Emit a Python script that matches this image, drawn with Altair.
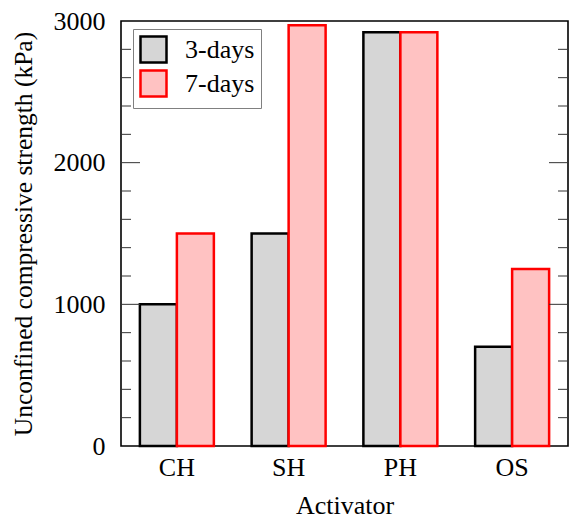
import altair as alt
import pandas as pd

# Unconfined compressive strength by activator and curing age
activators = ["CH", "SH", "PH", "OS"]
ages = ["3-days", "7-days"]
ucs_3days = [1000, 1500, 2920, 700]
ucs_7days = [1500, 2970, 2920, 1250]

minor_ticks = [200, 400, 600, 800, 1200, 1400, 1600, 1800, 2200, 2400, 2600, 2800]
major_ticks = [1000, 2000]

FONT = "Liberation Serif"
W, H = 447, 425

rows = []
for a, v3, v7 in zip(activators, ucs_3days, ucs_7days):
    rows.append({"Activator": a, "Age": ages[0], "value": v3})
    rows.append({"Activator": a, "Age": ages[1], "value": v7})
bars_df = pd.DataFrame(rows)

y_scale = alt.Scale(domain=[0, 3000], nice=False, zero=True)
y_axis = alt.Axis(
    values=[0, 1000, 2000, 3000],
    format="d",
    ticks=False,
    domain=False,
    grid=False,
    labelFont=FONT,
    labelFontSize=26,
    labelColor="black",
    labelPadding=16,
    title="Unconfined compressive strength (kPa)",
    titleFont=FONT,
    titleFontSize=25.5,
    titleFontWeight="normal",
    titleColor="black",
    titlePadding=17,
)

bars = alt.Chart(bars_df).mark_bar(strokeWidth=2.5, strokeJoin="miter").encode(
    x=alt.X(
        "Activator:N",
        sort=activators,
        scale=alt.Scale(paddingInner=0.338, paddingOuter=0.169),
        axis=alt.Axis(
            ticks=False,
            domain=False,
            labelAngle=0,
            labelFont=FONT,
            labelFontSize=26,
            labelColor="black",
            labelPadding=8,
            title="Activator",
            titleFont=FONT,
            titleFontSize=26,
            titleFontWeight="normal",
            titleColor="black",
            titlePadding=12,
        ),
    ),
    xOffset=alt.XOffset("Age:N", sort=ages, scale=alt.Scale(paddingInner=0, paddingOuter=0)),
    y=alt.Y("value:Q", scale=y_scale, axis=y_axis),
    fill=alt.Fill(
        "Age:N",
        sort=ages,
        scale=alt.Scale(domain=ages, range=["#d6d6d6", "#ffc2c2"]),
        legend=alt.Legend(title=None),
    ),
    stroke=alt.Stroke(
        "Age:N",
        sort=ages,
        scale=alt.Scale(domain=ages, range=["black", "#ff0000"]),
        legend=alt.Legend(title=None),
    ),
)

minor_df = pd.DataFrame({"value": minor_ticks})
major_df = pd.DataFrame({"value": major_ticks})


def tick_layer(df, x0, x1):
    return alt.Chart(df).mark_rule(color="#333333", strokeWidth=1).encode(
        x=alt.value(x0),
        x2=alt.value(x1),
        y=alt.Y("value:Q", scale=y_scale, axis=y_axis),
    )


chart = alt.layer(
    bars,
    tick_layer(minor_df, 0, 10),
    tick_layer(major_df, 0, 19),
    tick_layer(minor_df, W - 10, W),
    tick_layer(major_df, W - 19, W),
).properties(
    width=W,
    height=H,
    autosize=alt.AutoSizeParams(type="none"),
    padding={"left": 121, "top": 21, "right": 3, "bottom": 74},
    background="white",
).configure(
    font=FONT,
).configure_axis(
    labelFont=FONT,
    titleFont=FONT,
).configure_view(
    stroke="black",
    strokeWidth=1.6,
).configure_legend(
    orient="none",
    legendX=12,
    legendY=8,
    strokeColor="#808080",
    strokeWidth=1,
    fillColor="white",
    padding=6,
    symbolType="square",
    symbolSize=676,
    symbolStrokeWidth=2.5,
    labelFont=FONT,
    labelFontSize=26,
    labelColor="black",
    labelOffset=17,
    rowPadding=-3,
)

chart.save("out.html", embed_options={"renderer": "svg", "actions": False})
